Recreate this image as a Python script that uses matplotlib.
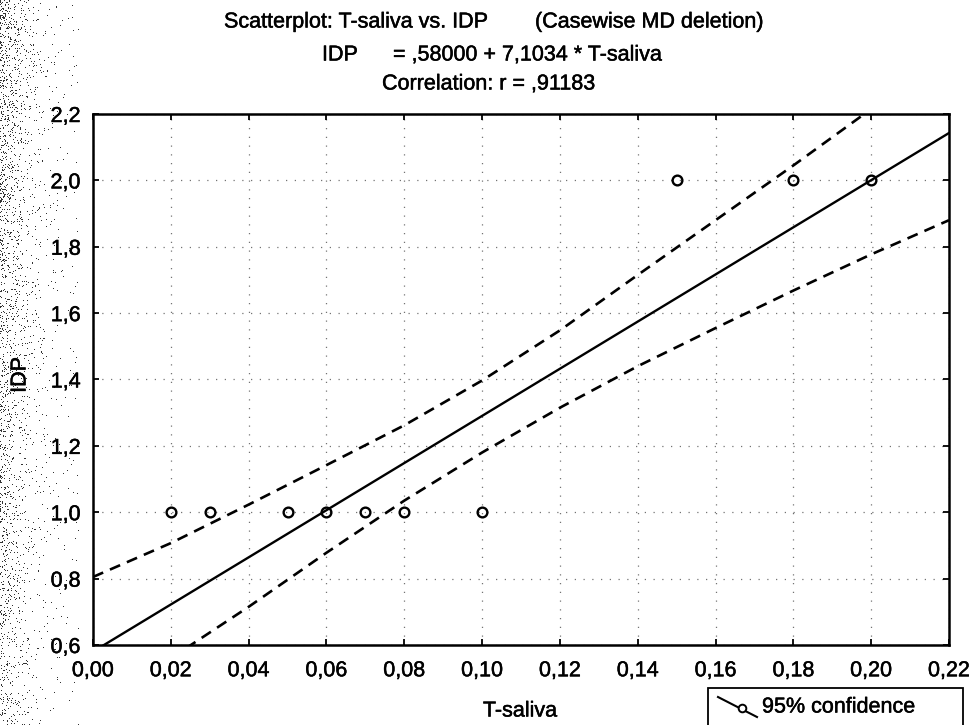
import numpy as np
import matplotlib
matplotlib.use("Agg")
import matplotlib.pyplot as plt
import matplotlib.ticker as mticker
import matplotlib.patheffects as pe
from matplotlib.lines import Line2D
from matplotlib.patches import Rectangle

plt.rcParams["font.family"] = ["Liberation Sans", "DejaVu Sans"]

# cases
t_saliva = [0.02, 0.03, 0.05, 0.06, 0.07, 0.08, 0.10, 0.15, 0.18, 0.20]
idp = [1.0, 1.0, 1.0, 1.0, 1.0, 1.0, 1.0, 2.0, 2.0, 2.0]

# fitted line: IDP = ,58000 + 7,1034 * T-saliva
intercept = 0.58
slope = 7.1034

# 95% confidence limits
upper_x = [0.0, 0.02, 0.04, 0.06, 0.08, 0.10, 0.12, 0.14, 0.16, 0.18, 0.20]
upper_y = [0.805, 0.907, 1.023, 1.142, 1.262, 1.397, 1.548, 1.715, 1.880, 2.045, 2.215]
lower_x = [0.02, 0.04, 0.06, 0.08, 0.10, 0.12, 0.14, 0.16, 0.18, 0.20, 0.22]
lower_y = [0.560, 0.715, 0.878, 1.035, 1.180, 1.315, 1.440, 1.555, 1.668, 1.777, 1.880]

FS = 15.5
heavy = [pe.withStroke(linewidth=0.35, foreground="black")]

fig = plt.figure(figsize=(9.69, 7.25), dpi=100)
ax = fig.add_axes([93 / 969, 80 / 725, 856 / 969, 531 / 725])

ax.set_xlim(0.0, 0.22)
ax.set_ylim(0.6, 2.2)
ax.set_xticks(np.arange(0, 0.2201, 0.02))
ax.set_yticks(np.arange(0.6, 2.2001, 0.2))

comma = lambda fmt: mticker.FuncFormatter(lambda v, p: (fmt % v).replace(".", ","))
ax.xaxis.set_major_formatter(comma("%.2f"))
ax.yaxis.set_major_formatter(comma("%.1f"))

ax.tick_params(direction="in", length=4, width=1.3, top=True, right=True,
               labelsize=FS, color="black")
ax.tick_params(axis="x", pad=11)
ax.tick_params(axis="y", pad=9)
for lab in ax.get_xticklabels() + ax.get_yticklabels():
    lab.set_path_effects(heavy)
for s in ax.spines.values():
    s.set_linewidth(1.8)

ax.grid(True, color="black", linestyle=(0, (1, 6)), linewidth=0.9, alpha=0.55)

xx = np.array([0.0, 0.22])
ax.plot(xx, intercept + slope * xx, color="black", linewidth=1.7)
ax.plot(upper_x, upper_y, color="black", linewidth=1.9, linestyle=(0, (4.2, 2.8)))
ax.plot(lower_x, lower_y, color="black", linewidth=1.9, linestyle=(0, (4.2, 2.8)))
ax.plot(t_saliva, idp, linestyle="none", marker="o", markersize=7,
        markerfacecolor="none", markeredgecolor="black", markeredgewidth=1.7)

# heading
def px(x, y):
    return x / 969, 1 - y / 725

def label(x, y, s, **kw):
    fig.text(*px(x, y), s, fontsize=FS, va="center", path_effects=heavy, **kw)

label(224, 22, "Scatterplot: T-saliva vs. IDP")
label(535, 22, "(Casewise MD deletion)")
label(322, 55, "IDP")
label(393, 55, "= ,58000 + 7,1034 * T-saliva")
label(382, 84, "Correlation: r = ,91183")

label(520, 711, "T-saliva", ha="center")
label(20, 375, "IDP", ha="center", rotation=90)

# legend box
fig.add_artist(Rectangle(px(708, 735), 255 / 969, 47 / 725, transform=fig.transFigure,
                         facecolor="white", edgecolor="black", linewidth=1.3))
hx = [px(718, 697)[0], px(757, 717)[0]]
hy = [px(718, 697)[1], px(757, 717)[1]]
fig.add_artist(Line2D(hx, hy, transform=fig.transFigure, color="black", linewidth=1.5))
fig.add_artist(Line2D([px(742, 708)[0]], [px(742, 708)[1]], transform=fig.transFigure,
                      marker="o", markersize=5.5, markerfacecolor="white",
                      markeredgecolor="black", markeredgewidth=1.4))
label(762, 707, "95% confidence")

# speckled scan edge on the left
rng = np.random.default_rng(3)
h, w = 725, 80
cols = np.arange(w)[None, :]
rows = np.arange(h)[:, None]
dens = 0.22 * np.exp(-cols / 16.0) * (1.0 - 0.5 * rows / h) + 0.004
dots = rng.random((h, w)) < dens
speck = np.zeros((h, w, 4))
speck[..., 3] = dots * 0.8
fig.figimage(speck, xo=0, yo=0, origin="upper", zorder=5)

fig.savefig("out.png", dpi=100)
